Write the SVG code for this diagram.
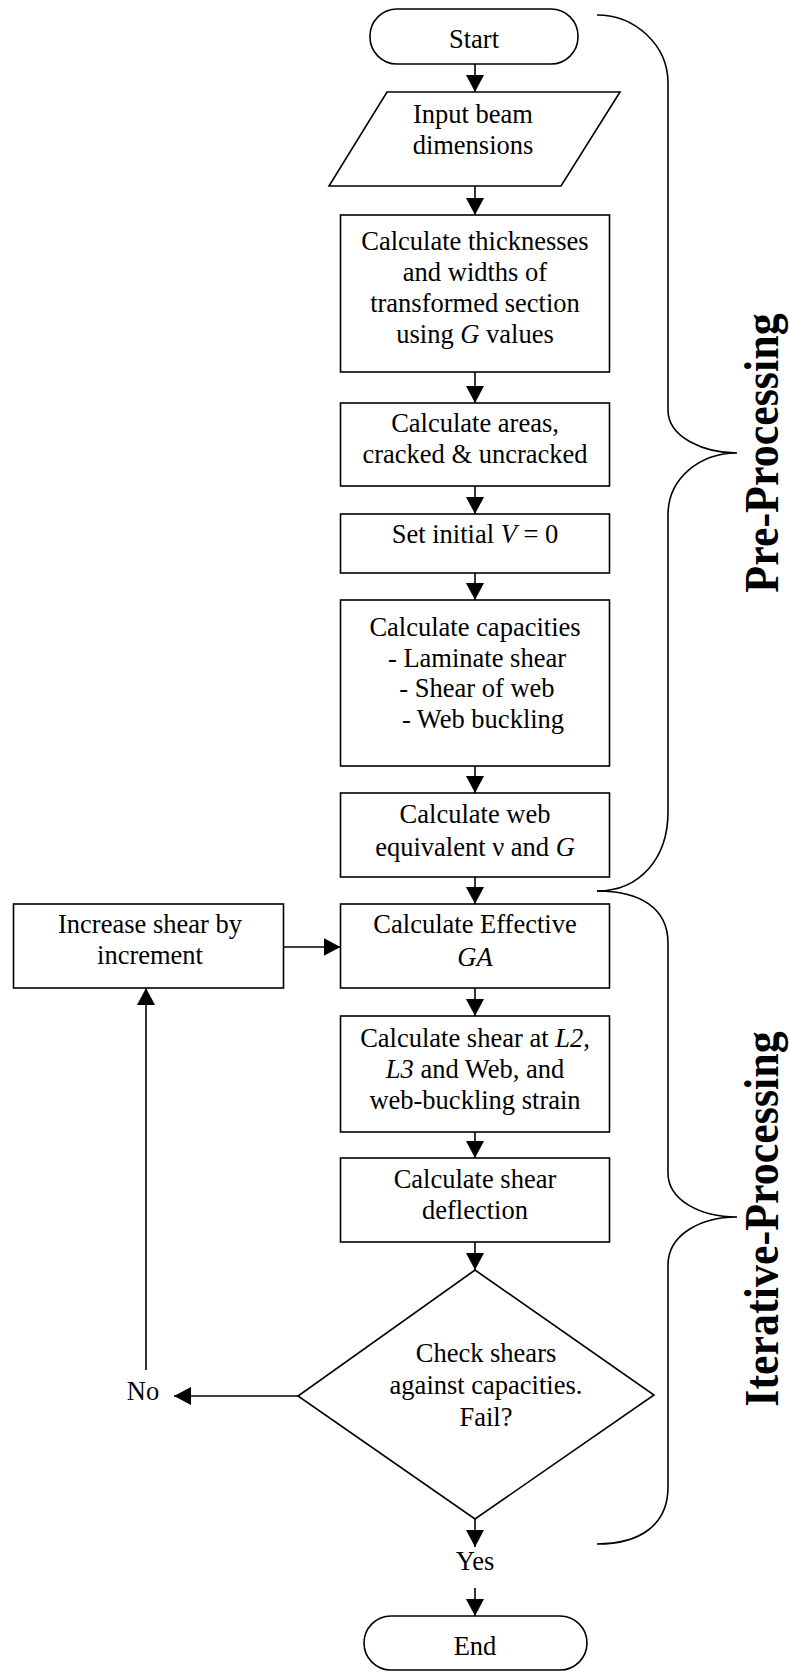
<svg xmlns="http://www.w3.org/2000/svg" width="789" height="1672" viewBox="0 0 789 1672">
  <style>
    .shape { fill: #ffffff; stroke: #000000; stroke-width: 1.6; }
    .txt { font-family: "Liberation Serif", "Times New Roman", serif; font-size: 26.5px; fill: #000000; text-anchor: middle; }
    .it { font-style: italic; }
    .edge { fill: none; stroke: #000000; stroke-width: 1.6; marker-end: url(#arrow); }
    .brace { fill: none; stroke: #000000; stroke-width: 1.6; }
    .phase { font-family: "Liberation Serif", "Times New Roman", serif; font-size: 44px; font-weight: bold; fill: #000000; text-anchor: middle; }
  </style>
  <defs>
    <marker id="arrow" viewBox="0 0 17 18" refX="17" refY="9" markerWidth="17" markerHeight="18" markerUnits="userSpaceOnUse" orient="auto">
      <path d="M0,0 L17,9 L0,18 Z" fill="#000000"/>
    </marker>
  </defs>
  <rect width="789" height="1672" fill="#ffffff"/>

  <!-- connectors -->
  <g id="connectors">
    <line class="edge" x1="475" y1="64" x2="475" y2="92"/>
    <line class="edge" x1="475" y1="186" x2="475" y2="215"/>
    <line class="edge" x1="475" y1="372" x2="475" y2="403"/>
    <line class="edge" x1="475" y1="486" x2="475" y2="514"/>
    <line class="edge" x1="475" y1="573" x2="475" y2="600"/>
    <line class="edge" x1="475" y1="766" x2="475" y2="793"/>
    <line class="edge" x1="475" y1="877" x2="475" y2="904"/>
    <line class="edge" x1="475" y1="988" x2="475" y2="1016"/>
    <line class="edge" x1="475" y1="1132" x2="475" y2="1158"/>
    <line class="edge" x1="475" y1="1242" x2="475" y2="1270"/>
    <line class="edge" x1="475" y1="1519" x2="475" y2="1547"/>
    <line class="edge" x1="475" y1="1588" x2="475" y2="1616"/>
    <line class="edge" x1="284" y1="947" x2="340.5" y2="947"/>
    <line class="edge" x1="298" y1="1396" x2="174" y2="1396"/>
    <line class="edge" x1="146" y1="1370" x2="146" y2="988"/>
  </g>

  <!-- phase braces -->
  <g id="brace-pre">
    <path class="brace" d="M597,15 C635,15 668,45 668,83 L668,410 C668,438 705,453 737,453 C700,453 668,478 668,515 L668,812 C668,858 640,891 597,891"/>
    <text class="phase" transform="translate(778,453) rotate(-90) scale(1,1.12)">Pre-Processing</text>
  </g>
  <g id="brace-iter">
    <path class="brace" d="M597,891 C640,891 668,908 668,943 L668,1173 C668,1200 700,1217 737,1217 C700,1217 668,1235 668,1265 L668,1487 C668,1525 640,1544 597,1544"/>
    <text class="phase" transform="translate(778,1219) rotate(-90) scale(1,1.12)">Iterative-Processing</text>
  </g>

  <g id="start">
    <rect class="shape" x="370" y="9" width="208" height="55" rx="27" ry="27"/>
    <text class="txt" x="474" y="48">Start</text>
  </g>

  <g id="input">
    <polygon class="shape" points="387,92 620,92 561,186 329,186"/>
    <text class="txt" x="473" y="123">Input beam</text>
    <text class="txt" x="473" y="154">dimensions</text>
  </g>

  <g id="transform">
    <rect class="shape" x="340.5" y="215" width="269" height="157"/>
    <text class="txt" x="475" y="250">Calculate thicknesses</text>
    <text class="txt" x="475" y="281">and widths of</text>
    <text class="txt" x="475" y="312">transformed section</text>
    <text class="txt" x="475" y="343">using <tspan class="it">G</tspan> values</text>
  </g>

  <g id="areas">
    <rect class="shape" x="340.5" y="403" width="269" height="83"/>
    <text class="txt" x="475" y="432">Calculate areas,</text>
    <text class="txt" x="475" y="463">cracked &amp; uncracked</text>
  </g>

  <g id="init">
    <rect class="shape" x="340.5" y="514" width="269" height="59"/>
    <text class="txt" x="475" y="543">Set initial <tspan class="it">V</tspan> = 0</text>
  </g>

  <g id="capacities">
    <rect class="shape" x="340.5" y="600" width="269" height="166"/>
    <text class="txt" x="475" y="636">Calculate capacities</text>
    <text class="txt" x="477" y="667">- Laminate shear</text>
    <text class="txt" x="477" y="697">- Shear of web</text>
    <text class="txt" x="483" y="728">- Web buckling</text>
  </g>

  <g id="web-equiv">
    <rect class="shape" x="340.5" y="793" width="269" height="84"/>
    <text class="txt" x="475" y="823">Calculate web</text>
    <text class="txt" x="475" y="856">equivalent ν and <tspan class="it">G</tspan></text>
  </g>

  <g id="effective-ga">
    <rect class="shape" x="340.5" y="904" width="269" height="84"/>
    <text class="txt" x="475" y="933">Calculate Effective</text>
    <text class="txt it" x="475" y="966">GA</text>
  </g>

  <g id="increase">
    <rect class="shape" x="13.5" y="904" width="270" height="84"/>
    <text class="txt" x="150" y="933">Increase shear by</text>
    <text class="txt" x="150" y="964">increment</text>
  </g>

  <g id="shear-at">
    <rect class="shape" x="340.5" y="1016" width="269" height="116"/>
    <text class="txt" x="475" y="1047">Calculate shear at <tspan class="it">L2</tspan>,</text>
    <text class="txt" x="475" y="1078"><tspan class="it">L3</tspan> and Web, and</text>
    <text class="txt" x="475" y="1109">web-buckling strain</text>
  </g>

  <g id="deflection">
    <rect class="shape" x="340.5" y="1158" width="269" height="84"/>
    <text class="txt" x="475" y="1188">Calculate shear</text>
    <text class="txt" x="475" y="1219">deflection</text>
  </g>

  <g id="check">
    <polygon class="shape" points="475,1270 654,1395 475,1519 298,1396"/>
    <text class="txt" x="486" y="1362">Check shears</text>
    <text class="txt" x="486" y="1394">against capacities.</text>
    <text class="txt" x="486" y="1426">Fail?</text>
  </g>

  <g id="label-no">
    <text class="txt" x="143" y="1400">No</text>
  </g>

  <g id="label-yes">
    <text class="txt" x="475" y="1570">Yes</text>
  </g>

  <g id="end">
    <rect class="shape" x="364" y="1616" width="223" height="54" rx="27" ry="27"/>
    <text class="txt" x="475" y="1655">End</text>
  </g>
</svg>
